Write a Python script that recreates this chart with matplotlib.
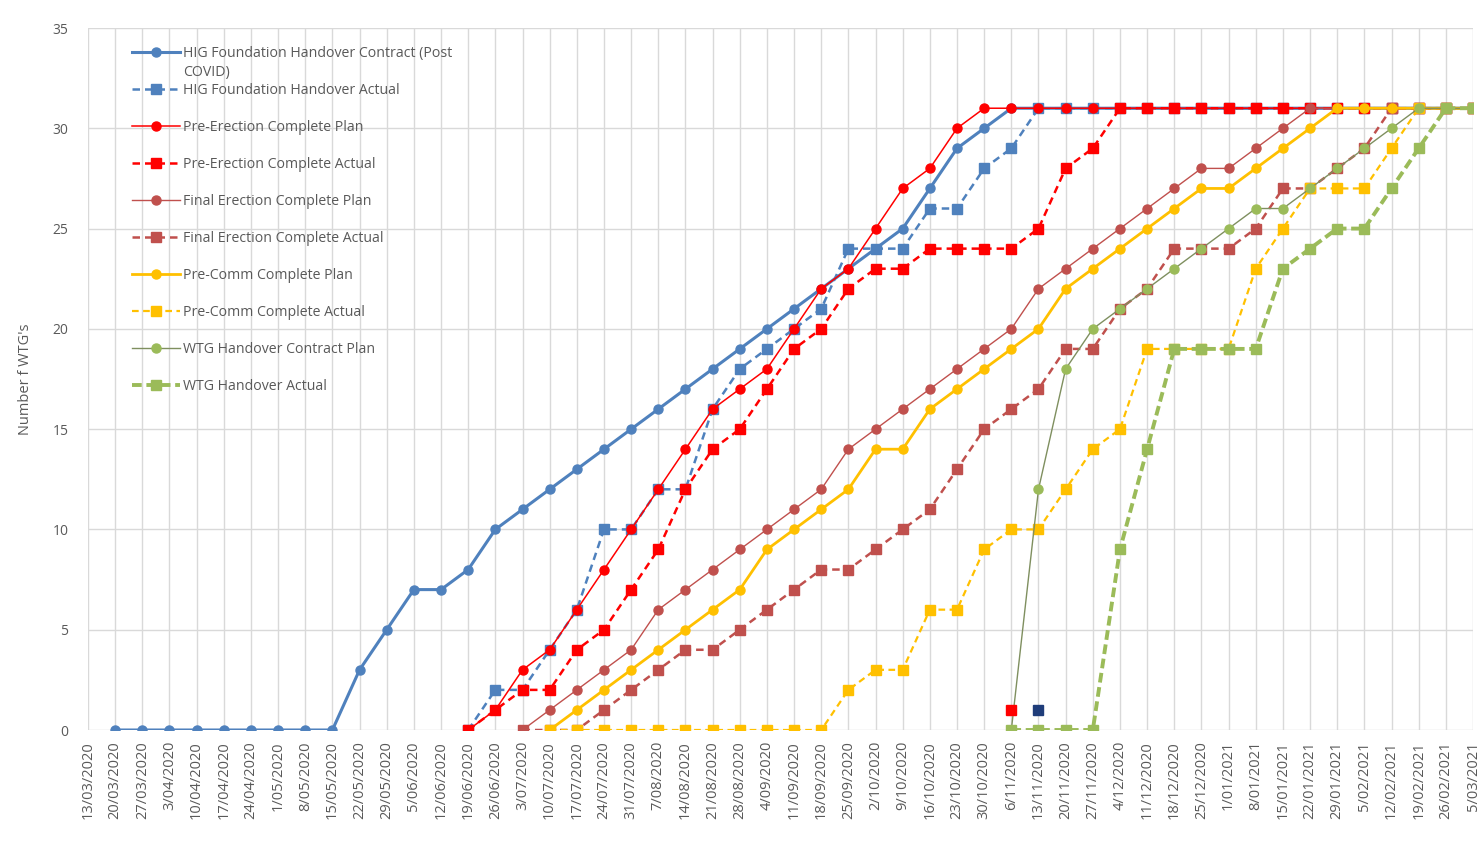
import numpy as np
import matplotlib
matplotlib.use("Agg")
import matplotlib.pyplot as plt

plt.rcParams['font.family'] = ['Open Sans', 'DejaVu Sans']

dates = ["13/03/2020", "20/03/2020", "27/03/2020", "3/04/2020", "10/04/2020", "17/04/2020",
         "24/04/2020", "1/05/2020", "8/05/2020", "15/05/2020", "22/05/2020", "29/05/2020",
         "5/06/2020", "12/06/2020", "19/06/2020", "26/06/2020", "3/07/2020", "10/07/2020",
         "17/07/2020", "24/07/2020", "31/07/2020", "7/08/2020", "14/08/2020", "21/08/2020",
         "28/08/2020", "4/09/2020", "11/09/2020", "18/09/2020", "25/09/2020", "2/10/2020",
         "9/10/2020", "16/10/2020", "23/10/2020", "30/10/2020", "6/11/2020", "13/11/2020",
         "20/11/2020", "27/11/2020", "4/12/2020", "11/12/2020", "18/12/2020", "25/12/2020",
         "1/01/2021", "8/01/2021", "15/01/2021", "22/01/2021", "29/01/2021", "5/02/2021",
         "12/02/2021", "19/02/2021", "26/02/2021", "5/03/2021"]

# each series: first date, then weekly values
hig_contract_start = "20/03/2020"
hig_contract = [0, 0, 0, 0, 0, 0, 0, 0, 0, 3, 5, 7, 7, 8, 10, 11, 12, 13, 14, 15, 16, 17, 18, 19,
                20, 21, 22, 23, 24, 25, 27, 29, 30, 31, 31, 31, 31, 31, 31, 31, 31, 31, 31, 31,
                31, 31, 31, 31, 31, 31, 31]
hig_actual_start = "19/06/2020"
hig_actual = [0, 2, 2, 4, 6, 10, 10, 12, 12, 16, 18, 19, 20, 21, 24, 24, 24, 26, 26, 28, 29, 31,
              31, 31, 31, 31, 31, 31, 31, 31, 31, 31, 31, 31, 31, 31, 31, 31]
pre_erec_plan_start = "19/06/2020"
pre_erec_plan = [0, 1, 3, 4, 6, 8, 10, 12, 14, 16, 17, 18, 20, 22, 23, 25, 27, 28, 30, 31, 31, 31,
                 31, 31, 31, 31, 31, 31, 31, 31, 31, 31, 31, 31, 31, 31, 31, 31]
pre_erec_actual_start = "19/06/2020"
pre_erec_actual = [0, 1, 2, 2, 4, 5, 7, 9, 12, 14, 15, 17, 19, 20, 22, 23, 23, 24, 24, 24, 24, 25,
                   28, 29, 31, 31, 31, 31, 31, 31, 31, 31, 31, 31, 31, 31, 31, 31]
final_plan_start = "3/07/2020"
final_plan = [0, 1, 2, 3, 4, 6, 7, 8, 9, 10, 11, 12, 14, 15, 16, 17, 18, 19, 20, 22, 23, 24, 25,
              26, 27, 28, 28, 29, 30, 31, 31, 31, 31, 31, 31, 31]
final_actual_start = "3/07/2020"
final_actual = [0, 0, 0, 1, 2, 3, 4, 4, 5, 6, 7, 8, 8, 9, 10, 11, 13, 15, 16, 17, 19, 19, 21, 22,
                24, 24, 24, 25, 27, 27, 28, 29, 31, 31, 31, 31]
precomm_plan_start = "10/07/2020"
precomm_plan = [0, 1, 2, 3, 4, 5, 6, 7, 9, 10, 11, 12, 14, 14, 16, 17, 18, 19, 20, 22, 23, 24, 25,
                26, 27, 27, 28, 29, 30, 31, 31, 31, 31, 31, 31]
precomm_actual_start = "10/07/2020"
precomm_actual = [0, 0, 0, 0, 0, 0, 0, 0, 0, 0, 0, 2, 3, 3, 6, 6, 9, 10, 10, 12, 14, 15, 19, 19,
                  19, 19, 23, 25, 27, 27, 27, 29, 31, 31, 31]
wtg_plan_start = "6/11/2020"
wtg_plan = [0, 12, 18, 20, 21, 22, 23, 24, 25, 26, 26, 27, 28, 29, 30, 31, 31, 31]
wtg_actual_start = "6/11/2020"
wtg_actual = [0, 0, 0, 0, 9, 14, 19, 19, 19, 19, 23, 24, 25, 25, 27, 29, 31, 31]
red_marker_date, red_marker_value = "6/11/2020", 1
navy_marker_date, navy_marker_value = "13/11/2020", 1

labels = ["HIG Foundation Handover Contract (Post", "HIG Foundation Handover Actual",
          "Pre-Erection Complete Plan", "Pre-Erection Complete Actual",
          "Final Erection Complete Plan", "Final Erection Complete Actual",
          "Pre-Comm Complete Plan", "Pre-Comm Complete Actual",
          "WTG Handover Contract Plan", "WTG Handover Actual"]


def xs(start, vals):
    i0 = dates.index(start)
    return np.arange(i0, i0 + len(vals))


W, H = 1483, 848
fig = plt.figure(figsize=(W / 100, H / 100), dpi=100)
ax = fig.add_axes([88 / W, 1 - 730 / H, (1473 - 88) / W, (730 - 28) / H])

BLUE = "#4F81BD"
RED = "#FF0000"
BROWN = "#C0504D"
YEL = "#FFC000"
GRN = "#9BBB59"

dash = (0, (3, 2))
series = [
    (hig_contract_start, hig_contract, dict(color=BLUE, lw=2.2, ls='-', marker='o', ms=6.5)),
    (hig_actual_start, hig_actual, dict(color=BLUE, lw=1.8, ls=dash, marker='s', ms=6.5)),
    (pre_erec_plan_start, pre_erec_plan, dict(color=RED, lw=1.1, ls='-', marker='o', ms=6.5)),
    (pre_erec_actual_start, pre_erec_actual, dict(color=RED, lw=1.8, ls=dash, marker='s', ms=6.5)),
    (final_plan_start, final_plan, dict(color=BROWN, lw=1.0, ls='-', marker='o', ms=6.5)),
    (final_actual_start, final_actual, dict(color=BROWN, lw=1.8, ls=dash, marker='s', ms=6.5)),
    (precomm_plan_start, precomm_plan, dict(color=YEL, lw=2.0, ls='-', marker='o', ms=6.5)),
    (precomm_actual_start, precomm_actual, dict(color=YEL, lw=1.6, ls=dash, marker='s', ms=6.5)),
    (wtg_plan_start, wtg_plan, dict(color="#7F8F5F", lw=1.0, ls='-', marker='o', ms=6.5,
                                     mfc=GRN, mec=GRN)),
    (wtg_actual_start, wtg_actual, dict(color=GRN, lw=2.8, ls=(0, (2.5, 1.2)), marker='s', ms=6.5)),
]

handles = []
for (start, vals, kw), lab in zip(series, labels):
    h, = ax.plot(xs(start, vals), vals, label=lab, zorder=3, **kw)
    handles.append(h)

ax.plot([dates.index(red_marker_date)], [red_marker_value], 's', color=RED, ms=6.5, zorder=4)
ax.plot([dates.index(navy_marker_date)], [navy_marker_value], 's', color="#1F3D7A", ms=6.5, zorder=4)

ax.set_xlim(0, len(dates) - 1)
ax.set_ylim(0, 35)
ax.set_yticks(np.arange(0, 36, 5))
ax.set_xticks(np.arange(len(dates)))
ax.set_xticklabels(dates, rotation=90, fontsize=10.5, color="#595959")
ax.tick_params(axis='y', labelsize=10, labelcolor="#595959", length=0, pad=14)
ax.tick_params(axis='x', length=0, pad=8)
ax.grid(True, color="#D9D9D9", lw=1)
ax.set_axisbelow(True)
for s in ax.spines.values():
    s.set_visible(False)
ax.set_ylabel("Number f WTG's", fontsize=10.5, color="#595959", labelpad=14)

fs = 10.2
leg = ax.legend(handles=handles, loc='upper left',
                bbox_to_anchor=((132 - 88) / (1473 - 88), (730 - 46) / 702),
                frameon=False, fontsize=fs, handlelength=3.4, handletextpad=0.2,
                labelspacing=1.55, borderpad=0, borderaxespad=0)
for t in leg.get_texts():
    t.set_color("#595959")

fig.canvas.draw()
bb = leg.get_texts()[0].get_window_extent()
inv = fig.transFigure.inverted()
x0, y0 = inv.transform((bb.x0, bb.y0))
fig.text(x0, y0 - 4 / H, "COVID)", fontsize=fs, color="#595959", va='top', ha='left')

fig.savefig("out.png", dpi=100)
